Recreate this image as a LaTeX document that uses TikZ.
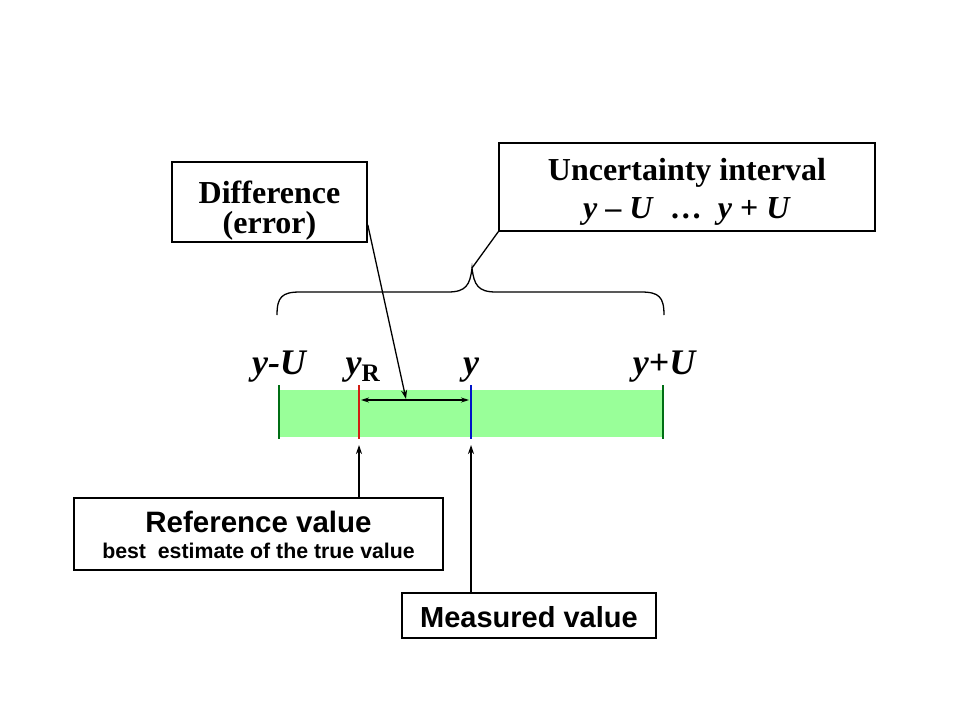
\documentclass[tikz,border=0pt]{standalone}
\usepackage{fontspec}
\setmainfont{Liberation Serif}
\setsansfont{Liberation Sans}
\usetikzlibrary{arrows.meta}
\definecolor{barfill}{RGB}{153,255,153}
\definecolor{dgreen}{RGB}{0,110,20}
\definecolor{rred}{RGB}{210,30,20}
\definecolor{bblue}{RGB}{0,20,200}
\tikzset{
  box/.style={draw=black, line width=1.5pt, fill=white, inner sep=0pt},
  lbl/.style={font=\fontsize{36}{36}\selectfont\bfseries\itshape, anchor=base},
  conn/.style={draw=black, line width=1.3pt},
  arr/.style={conn, -{Stealth[length=9pt,width=6pt]}},
  tick/.style={line width=2.8pt},
}
\begin{document}
\begin{tikzpicture}[x=1pt,y=-1pt]
\useasboundingbox[fill=white] (0,0) rectangle (960,720);
% boxes
\node[box, minimum width=195pt, minimum height=80pt] (diff) at (269.5,202) {};
\node[font=\fontsize{32}{32}\selectfont\bfseries, anchor=base] (dt1) at (269.5,203) {Difference};
\node[font=\fontsize{32}{32}\selectfont\bfseries, anchor=base] (dt2) at (269.5,233) {(error)};
\node[box, minimum width=376pt, minimum height=88pt] (unc) at (687,187) {};
\node[font=\fontsize{32}{32}\selectfont\bfseries, anchor=base] (ut1) at (687,180) {Uncertainty interval};
\node[font=\fontsize{32}{32}\selectfont\bfseries, anchor=base] (ut2) at (687,218) {\textit{y} -- \textit{U}\ \ \dots\ \ \textit{y} + \textit{U}};
\node[box, minimum width=369pt, minimum height=72pt] (ref) at (258.5,534) {};
\node[font=\sffamily\fontsize{29.5}{30}\selectfont\bfseries, anchor=base] (reft) at (258.5,532) {Reference value};
\node[font=\sffamily\fontsize{21.3}{22}\selectfont\bfseries, anchor=base] (refs) at (258.5,558) {best\ \ estimate of the true value};
\node[box, minimum width=254pt, minimum height=45pt] (meas) at (529,615.5) {};
\node[font=\sffamily\fontsize{29}{29}\selectfont\bfseries, anchor=base] (meast) at (529,627) {Measured value};
% bar
\fill[barfill] (279,390) rectangle (663,437);
\coordinate (yr) at (359,437);
\coordinate (ym) at (471,437);
\draw[tick, dgreen] (279,385) -- (279,439);
\draw[tick, dgreen] (663,385) -- (663,439);
\draw[tick, rred] (359,385) -- (359,439);
\draw[tick, bblue] (471,385) -- (471,439);
% labels
\node[lbl] (lyu) at (279,374) {y-U};
\node[lbl] (lyr) at (363,374) {y\textsubscript{\upshape R}};
\node[lbl] (ly) at (471,374) {y};
\node[lbl] (lyp) at (664,374) {y+U};
% difference arrow
\coordinate (dl) at (361,400);
\coordinate (dr) at (469,400);
\draw[conn, line width=1.2pt, {Stealth[length=8pt,width=5pt]}-{Stealth[length=8pt,width=5pt]}] (dl) -- (dr);
\coordinate (dtip) at (406,399);
\draw[arr] (diff.south east) ++(0,-18) coordinate (dstart) -- (dtip);
% brace
\coordinate (btip) at (472,268);
\draw[conn] (277,315) .. controls (277,297) and (282,292) .. (300,292)
  -- (448,292) .. controls (466,292) and (470,285) .. (btip)
  .. controls (474,285) and (478,292) .. (496,292)
  -- (641,292) .. controls (659,292) and (664,297) .. (664,315);
\draw[conn] (btip) -- (unc.south west);
% arrows up
\draw[arr] (ref.north -| yr) -- (359,445);
\draw[arr] (meas.north -| ym) -- (471,445);
\end{tikzpicture}
\end{document}
